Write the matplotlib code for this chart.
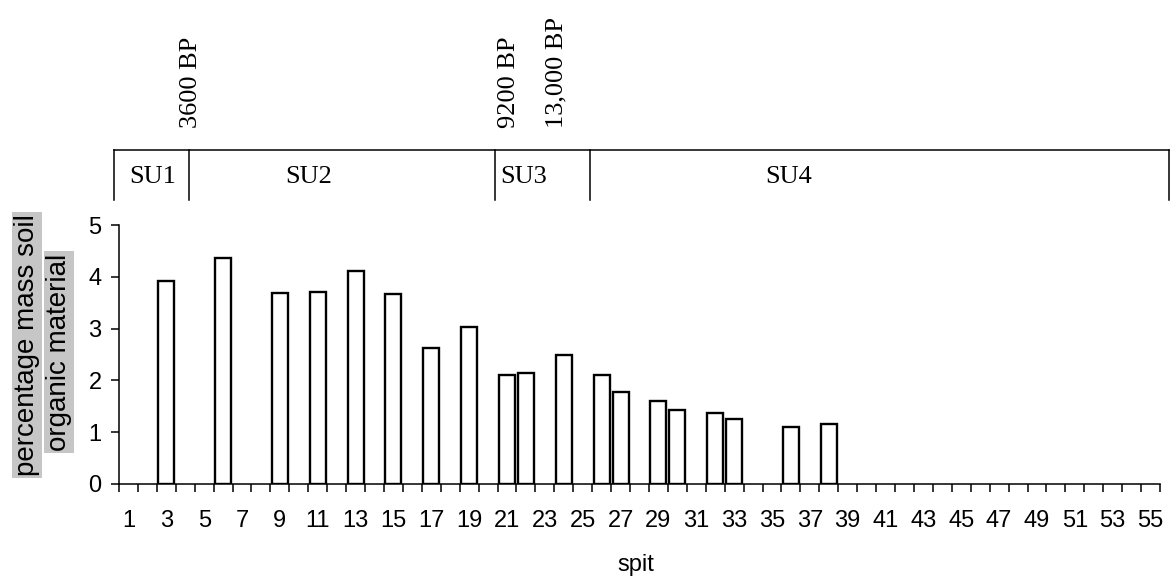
import matplotlib
matplotlib.use("Agg")
import matplotlib.pyplot as plt
import matplotlib.transforms as mtransforms

# ---- data ----
spits = [3, 6, 9, 11, 13, 15, 17, 19, 21, 22, 24, 26, 27, 29, 30, 32, 33, 36, 38]
values = [3.91, 4.37, 3.68, 3.71, 4.11, 3.67, 2.62, 3.03, 2.10, 2.15, 2.50,
          2.11, 1.77, 1.61, 1.42, 1.37, 1.26, 1.11, 1.16]
n_spits = 55
xtick_labels = [str(i) for i in range(1, n_spits + 1, 2)]
yticks = [0, 1, 2, 3, 4, 5]

su_names = ["SU1", "SU2", "SU3", "SU4"]
su_edges = [0.24, 4.21, 20.35, 25.38, 56.0]
su_label_x = [2.27, 10.5, 21.9, 35.9]
dates = ["3600 BP", "9200 BP", "13,000 BP"]
date_x = [4.33, 21.1, 23.6]

W, H = 1172, 579
fig = plt.figure(figsize=(W / 100, H / 100), dpi=100)
ax = fig.add_axes([119 / W, 1 - 484 / H, (1160 - 119) / W, (484 - 225) / H])

sans = "Liberation Sans"
serif = "Liberation Serif"

ax.bar(spits, values, width=0.85, facecolor="white", edgecolor="black", linewidth=1.7, zorder=3)

ax.set_xlim(0.5, n_spits + 0.5)
ax.set_ylim(0, 5)

# tick marks between categories, labels at odd categories
ax.set_xticks([i + 0.5 for i in range(0, n_spits + 1)])
ax.set_xticklabels([])
ax.set_xticks(list(range(1, n_spits + 1, 2)), minor=True)
ax.set_xticklabels(xtick_labels, minor=True, fontsize=17, family=sans)
ax.tick_params(axis="x", which="major", direction="out", length=5.8, width=1.1)
ax.tick_params(axis="x", which="minor", length=0, pad=19)

ax.set_yticks(yticks)
ax.set_yticklabels([str(t) for t in yticks], fontsize=17, family=sans)
ax.tick_params(axis="y", direction="out", length=5.5, width=1.1, pad=7)

for s in ["top", "right"]:
    ax.spines[s].set_visible(False)
for s in ["left", "bottom"]:
    ax.spines[s].set_linewidth(1.1)

fig.text(636 / W, 1 - 565 / H, "spit", ha="center", va="center", fontsize=17, family=sans)

# y label, two shaded lines
fig.text(27 / W, 1 - 345 / H, "percentage mass soil", rotation=90, ha="center", va="center",
         fontsize=20, family=sans,
         bbox=dict(facecolor="#c6c6c6", edgecolor="none", pad=1.5))
fig.text(59 / W, 1 - 352 / H, "organic material", rotation=90, ha="center", va="center",
         fontsize=20, family=sans,
         bbox=dict(facecolor="#c6c6c6", edgecolor="none", pad=1.5))

# stratigraphic units box above the plot
tr = mtransforms.blended_transform_factory(ax.transData, fig.transFigure)
y_top = 1 - 150 / H
y_bot = 1 - 200 / H
ax.plot([su_edges[0], su_edges[-1]], [y_top, y_top], transform=tr, color="black",
        linewidth=1.1, clip_on=False)
for e in su_edges:
    ax.plot([e, e], [y_top, y_bot], transform=tr, color="black", linewidth=1.1, clip_on=False)
for name, x in zip(su_names, su_label_x):
    ax.text(x, 1 - 177 / H, name, transform=tr, ha="center", va="center",
            fontsize=19, family=serif)
for d, x in zip(dates, date_x):
    ax.text(x, 1 - 128 / H, d, transform=tr, ha="center", va="bottom", rotation=90,
            fontsize=19, family=serif)

fig.savefig("out.png", dpi=100)
